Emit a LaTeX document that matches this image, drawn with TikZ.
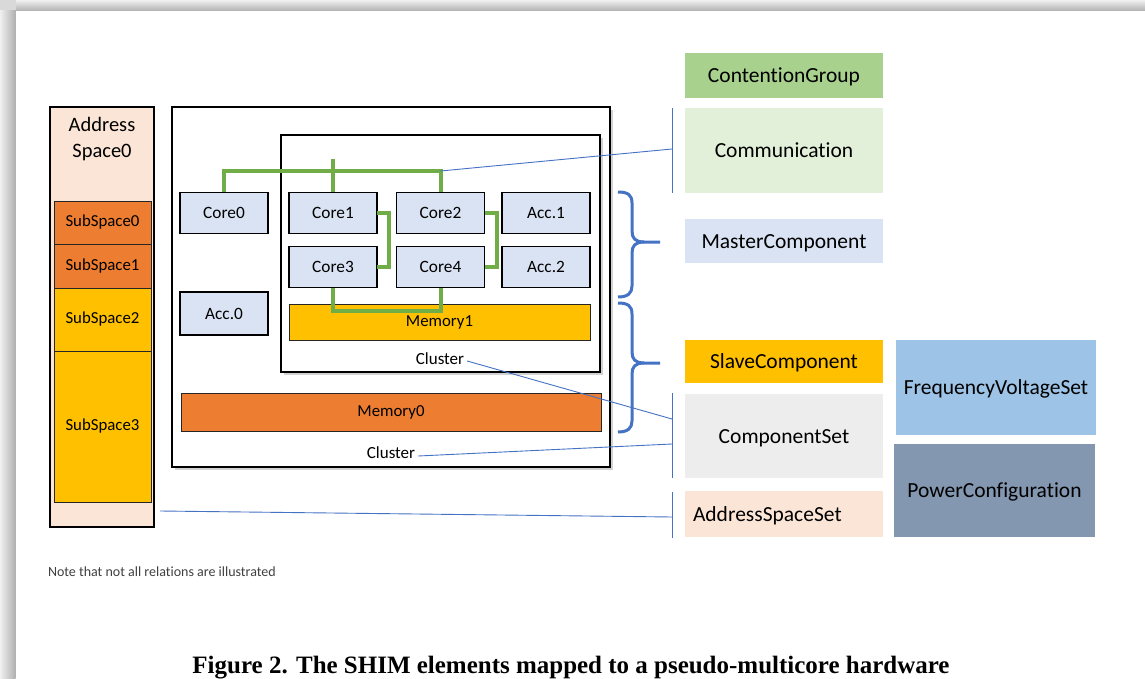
\documentclass[tikz,border=0pt]{standalone}
\usepackage{fontspec}
\setmainfont{Carlito}[Ligatures=NoCommon]
\newfontfamily\capfont{Liberation Serif}
\usepackage{graphicx}
\usetikzlibrary{shadows,calc}
\definecolor{coreblue}{HTML}{DAE3F3}
\definecolor{memorange}{HTML}{ED7D31}
\definecolor{memgold}{HTML}{FFC000}
\definecolor{peach}{HTML}{FBE5D6}
\definecolor{busgreen}{HTML}{70AD47}
\definecolor{relblue}{HTML}{4472C4}
\definecolor{cgreen}{HTML}{A9D18E}
\definecolor{lgreen}{HTML}{E2F0D9}
\definecolor{lgray}{HTML}{EDEDED}
\definecolor{fvblue}{HTML}{9DC3E6}
\definecolor{pcblue}{HTML}{8497B0}
\definecolor{notegray}{HTML}{404040}
\begin{document}
\begin{tikzpicture}[x=1pt,y=-1pt,
  every node/.style={inner sep=0pt,outer sep=0pt},
  hw/.style={draw=black,line width=1.8pt,fill=coreblue,minimum width=88pt,minimum height=41pt,font=\fontsize{17.3}{19}\selectfont},
  mem/.style={draw=black!85,line width=0.8pt,font=\fontsize{16.8}{19}\selectfont},
  clusterbox/.style={draw=black,line width=1.6pt,fill=white,drop shadow={shadow xshift=3pt,shadow yshift=-3pt,opacity=0.35}},
  elemfont/.style={font=\fontsize{21.5}{25}\selectfont,text height=14pt,text depth=0pt},
  elem/.style={elemfont,minimum width=198pt},
  bus/.style={draw=busgreen,line width=4pt},
  rel/.style={draw=relblue,line width=0.9pt},
  bracepath/.style={draw=relblue,line width=3pt},
  small/.style={font=\fontsize{17}{19}\selectfont}
]
\useasboundingbox (0,0) rectangle (1145,679);
\fill[white] (0,0) rectangle (1145,679);
% page shadow
\shade[left color=gray!12,right color=gray!62] (0,10) rectangle (15.5,679);
\shade[top color=gray!12,bottom color=gray!62] (15.5,0) rectangle (1145,11);
\fill[gray!30] (0,0) rectangle (15.5,10);

% address space
\node[draw=black,line width=1.6pt,fill=peach,minimum width=104pt,minimum height=420pt] (as0) at (102,317) {};
\node[font=\fontsize{20.5}{26}\selectfont,align=center] (as0lbl) at (102,139) {Address\\Space0};
\node[mem,fill=memorange,minimum width=97pt,minimum height=43pt] (ss0) at (102.5,222.5) {SubSpace0};
\node[mem,fill=memorange,minimum width=97pt,minimum height=44pt] (ss1) at (102.5,266) {SubSpace1};
\node[mem,fill=memgold,minimum width=97pt,minimum height=63pt] (ss2) at (102.5,319.5) {SubSpace2};
\node[mem,fill=memgold,minimum width=97pt,minimum height=151pt] (ss3) at (102.5,426.5) {SubSpace3};

% clusters
\node[clusterbox,minimum width=438pt,minimum height=360pt] (outer) at (391,287) {};
\node[clusterbox,minimum width=319pt,minimum height=237pt] (inner) at (440.5,253.5) {};
\node[mem,fill=memorange,minimum width=420pt,minimum height=38pt] (m0) at (391,412) {Memory0};
\node[small] (clin) at (440,359) {Cluster};
\node[small] (clout) at (391,453) {Cluster};

% cores
\node[hw] (c0) at (224,213) {Core0};
\node[hw] (c1) at (333,213) {Core1};
\node[hw] (c2) at (440.5,213) {Core2};
\node[hw] (a1) at (546,213) {Acc.1};
\node[hw] (c3) at (333,267) {Core3};
\node[hw] (c4) at (440.5,267) {Core4};
\node[hw] (a2) at (546,267) {Acc.2};
\node[hw,minimum height=43pt] (a0) at (224,313.5) {Acc.0};
\node[mem,fill=memgold,minimum width=301pt,minimum height=36pt] (m1) at (439.5,322) {Memory1};

% green bus
\coordinate (busy) at (0,171);
\coordinate (stubtop) at (0,159);
\coordinate (memy) at (0,311);
\draw[bus] (c0.north) -- (c0.north |- busy) -- (c2.north |- busy) -- (c2.north);
\draw[bus] (c1.north) -- (c1.north |- stubtop);
\draw[bus] (c1.east) -- ++(12,0) |- (c3.east);
\draw[bus] (c2.east) -- ++(12,0) |- (c4.east);
\draw[bus] (c3.south) -- (c3.south |- memy) -| (c4.south);
\coordinate (busR) at (c2.north |- busy);

% right column elements
\node[elem,fill=cgreen,minimum height=45pt] (cg) at (784,75.5) {ContentionGroup};
\node[elem,fill=lgreen,minimum height=85pt] (comm) at (784,150.5) {Communication};
\node[elem,fill=coreblue,minimum height=44pt] (master) at (784,241) {MasterComponent};
\node[elem,fill=memgold,minimum height=43pt] (slave) at (784,361.5) {SlaveComponent};
\node[elem,fill=lgray,minimum height=84pt] (cset) at (784,436) {ComponentSet};
\node[elem,fill=peach,minimum height=46pt,text width=182pt,align=left,inner xsep=8pt] (aset) at (784,514) {AddressSpaceSet};
\node[elemfont,fill=fvblue,minimum width=200pt,minimum height=95pt] (fvs) at (996,387.5) {FrequencyVoltageSet};
\node[elemfont,fill=pcblue,minimum width=201pt,minimum height=93pt] (pc) at (994.5,490.5) {PowerConfiguration};

% relation bars
\coordinate (commT) at (672,108);
\coordinate (commB) at (672,193);
\coordinate (commP) at (672,149);
\coordinate (csT) at (672,393);
\coordinate (csB) at (672,478);
\coordinate (csP1) at (672,419);
\coordinate (csP2) at (672,444);
\coordinate (asT) at (672,492);
\coordinate (asB) at (672,538);
\coordinate (asP) at (672,517);
\draw[rel] (commT) -- (commB);
\draw[rel] (csT) -- (csB);
\draw[rel] (asT) -- (asB);
\draw[rel] (busR) -- (commP);
\draw[rel] (clin.east) ++(3,2) -- (csP1);
\draw[rel] ($(clout.east)+(3,3)$) -- (csP2);
\draw[rel] ($(as0.east)+(6,194)$) -- (asP);

% braces
\draw[bracepath] (618,192) .. controls (628,192) and (632,195) .. (632,203) -- (632,231)
  .. controls (632,238) and (635,242) .. (644,242) -- (660,242);
\draw[bracepath] (644,242) .. controls (635,242) and (632,246) .. (632,253) -- (632,286)
  .. controls (632,293) and (628,297) .. (618,297);
\draw[bracepath] (618,303) .. controls (628,303) and (632,306) .. (632,314) -- (632,352)
  .. controls (632,359) and (635,363) .. (644,363) -- (660,363);
\draw[bracepath] (644,363) .. controls (635,363) and (632,367) .. (632,374) -- (632,421)
  .. controls (632,428) and (628,432) .. (618,432);

% note and caption
\node[anchor=west,font=\fontsize{14}{16}\selectfont,text=notegray] (note) at (48,572) {Note that not all relations are illustrated};
\node[anchor=base] (caption) at (571,673) {\resizebox{757pt}{\height}{\capfont\bfseries\fontsize{25}{28}\selectfont Figure 2. The SHIM elements mapped to a pseudo-multicore hardware}};
\end{tikzpicture}
\end{document}
